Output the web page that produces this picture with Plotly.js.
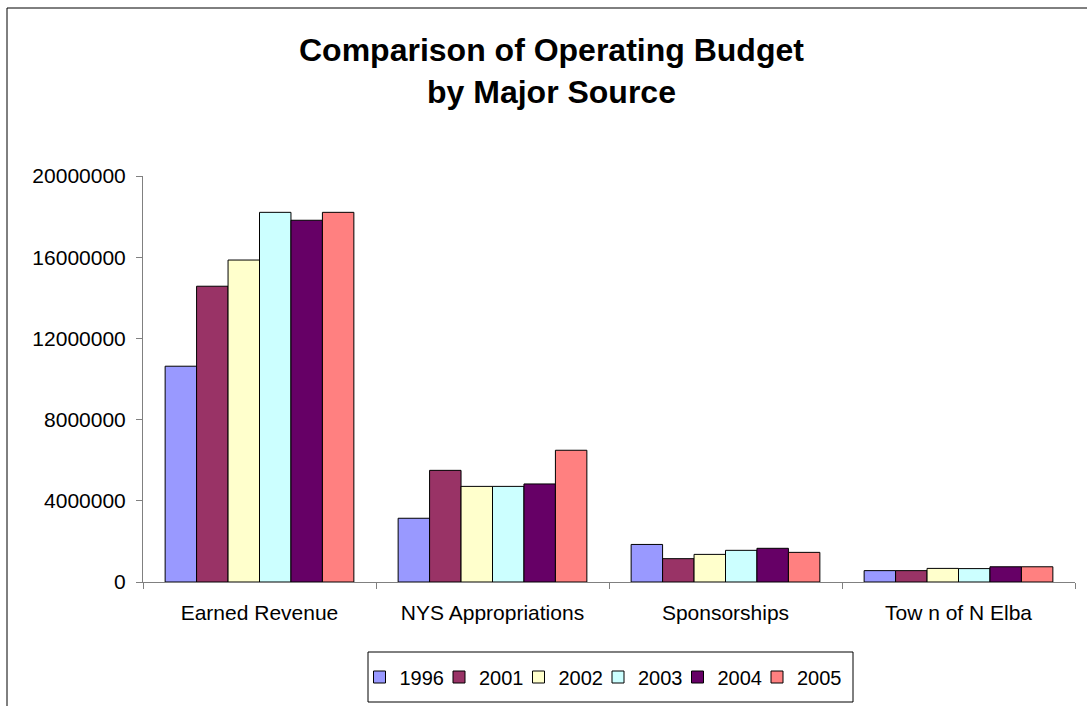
<!DOCTYPE html>
<html>
<head>
<meta charset="utf-8">
<script src="https://cdn.plot.ly/plotly-3.0.1.min.js"></script>
<style>
html,body{margin:0;padding:0;background:#fff;}
#chart{width:1087px;height:706px;}
</style>
</head>
<body>
<div id="chart"></div>
<script>
const categories = ["Earned Revenue", "NYS Appropriations", "Sponsorships", "Tow n of N Elba"];
const years = ["1996", "2001", "2002", "2003", "2004", "2005"];
const values1996 = [10630000, 3140000, 1850000, 560000];
const values2001 = [14570000, 5500000, 1150000, 560000];
const values2002 = [15860000, 4710000, 1360000, 670000];
const values2003 = [18210000, 4710000, 1560000, 660000];
const values2004 = [17820000, 4830000, 1660000, 750000];
const values2005 = [18210000, 6490000, 1460000, 750000];
const colors = ["#9999FF", "#993366", "#FFFFCC", "#CCFFFF", "#660066", "#FF8080"];
const yTicks = [0, 4000000, 8000000, 12000000, 16000000, 20000000];
const titleLines = ["Comparison of Operating Budget", "by Major Source"];

const series = [values1996, values2001, values2002, values2003, values2004, values2005];
const traces = series.map((vals, i) => ({
  type: "bar",
  name: years[i],
  x: categories,
  y: vals,
  marker: {color: colors[i], line: {color: "#000000", width: 1}},
  hoverinfo: "x+y+name"
}));

const font = "'Liberation Sans', Arial, sans-serif";
const L = 143, T = 176, PW = 932, PH = 406, B = 582;
const px = v => (v - L) / PW;
const py = v => (B - v) / PH;
const titleX = px(551);
const layout = {
  width: 1087,
  height: 706,
  paper_bgcolor: "#ffffff",
  plot_bgcolor: "#ffffff",
  margin: {l: 143, r: 12, t: 176, b: 124, autoexpand: false},
  font: {family: font, color: "#000000", size: 21},
  barmode: "group",
  bargap: 0.19,
  bargroupgap: 0,
  showlegend: true,
  legend: {
    orientation: "h",
    x: px(608), xanchor: "center",
    y: py(677), yanchor: "middle",
    borderwidth: 0,
    bgcolor: "rgba(0,0,0,0)",
    font: {family: font, size: 20, color: "#000000"},
    indentation: -10,
    traceorder: "normal"
  },
  xaxis: {
    type: "category",
    showline: true, linecolor: "#808080", linewidth: 1,
    ticks: "outside", tickson: "boundaries", ticklen: 6, tickcolor: "#808080",
    tickfont: {family: font, size: 21, color: "#000000"},
    ticklabelstandoff: 12,
    showgrid: false, zeroline: false,
    fixedrange: true
  },
  yaxis: {
    range: [0, 20000000],
    tickvals: yTicks,
    tickformat: "d",
    showline: true, linecolor: "#808080", linewidth: 1,
    ticks: "outside", ticklen: 6, tickcolor: "#808080",
    tickfont: {family: font, size: 21, color: "#000000"},
    ticklabelstandoff: 6,
    showgrid: false, zeroline: false,
    fixedrange: true
  },
  annotations: [
    {text: "<b>" + titleLines[0] + "</b>", xref: "paper", yref: "paper",
     x: titleX, y: py(50), xanchor: "center", yanchor: "middle",
     showarrow: false, font: {family: font, size: 32, color: "#000000"}},
    {text: "<b>" + titleLines[1] + "</b>", xref: "paper", yref: "paper",
     x: titleX, y: py(92), xanchor: "center", yanchor: "middle",
     showarrow: false, font: {family: font, size: 32, color: "#000000"}}
  ],
  shapes: [
    {type: "rect", xref: "paper", yref: "paper",
     x0: px(7), x1: 1.1, y0: -0.5, y1: py(8),
     line: {color: "#000000", width: 1}, fillcolor: "rgba(0,0,0,0)", layer: "below"},
    {type: "rect", xref: "paper", yref: "paper",
     x0: px(368), x1: px(853), y0: py(702), y1: py(652),
     line: {color: "#000000", width: 1}, fillcolor: "rgba(0,0,0,0)", layer: "below"}
  ]
};

Plotly.newPlot("chart", traces, layout, {displayModeBar: false});
</script>
</body>
</html>
